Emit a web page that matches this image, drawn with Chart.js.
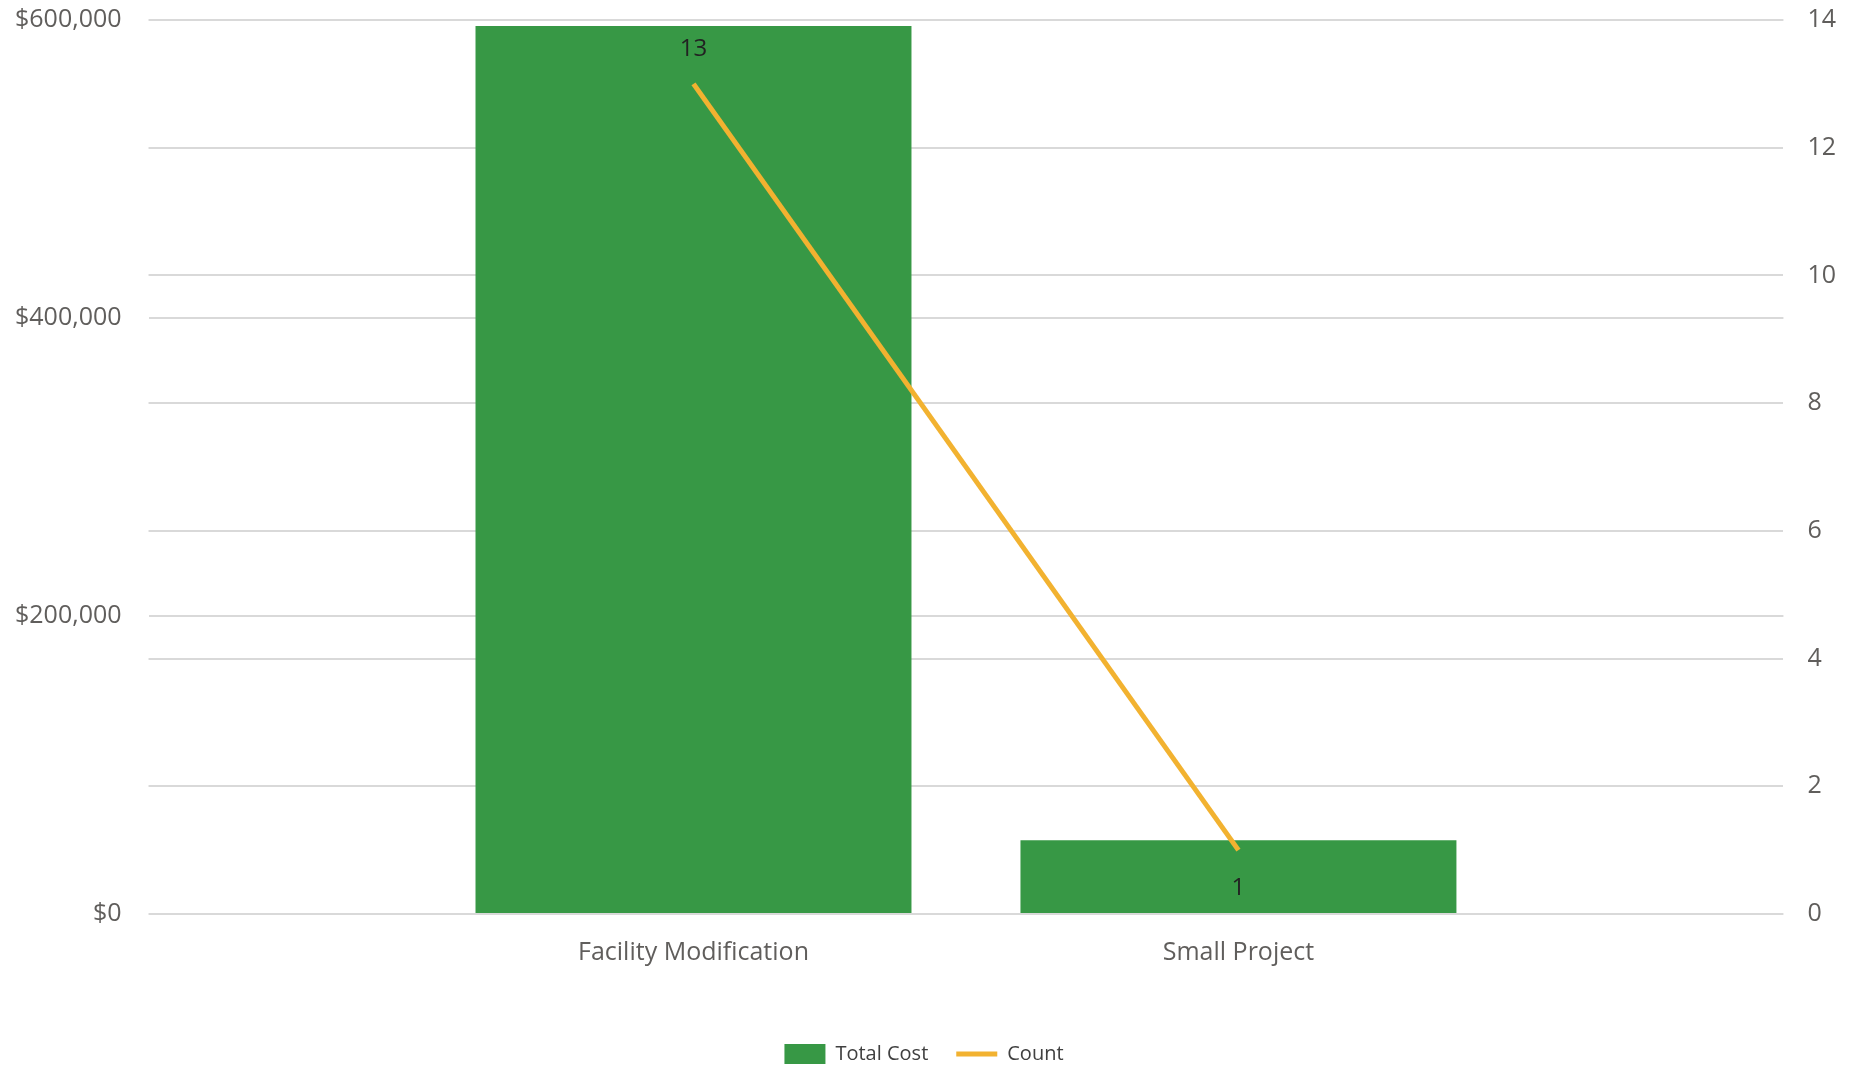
<!DOCTYPE html>
<html>
<head>
<meta charset="utf-8">
<script src="https://cdn.jsdelivr.net/npm/chart.js@4.4.1/dist/chart.umd.min.js"></script>
<style>
  html, body { margin: 0; padding: 0; background: #fff; }
  #wrap { width: 1864px; height: 1067px; }
</style>
</head>
<body>
<div id="wrap"><canvas id="chart"></canvas></div>
<script>
const categories = ["Facility Modification", "Small Project"];
const totalCost = [596000, 49500];
const counts = [13, 1];
const costTicks = [0, 200000, 400000, 600000];
const countTicks = [0, 2, 4, 6, 8, 10, 12, 14];

const green = '#379845';
const orange = '#F2B230';
const gridColor = '#D9D9D9';
const font = "'Open Sans', 'Noto Sans', sans-serif";

// draws the count labels next to the line points, away from the line
const countLabels = {
  id: 'countLabels',
  afterDatasetsDraw(chart) {
    const meta = chart.getDatasetMeta(1);
    const ctx = chart.ctx;
    ctx.save();
    ctx.font = '24px ' + font;
    ctx.fillStyle = '#222';
    ctx.textAlign = 'center';
    ctx.textBaseline = 'middle';
    meta.data.forEach((pt, i) => {
      const v = counts[i];
      const nb = [counts[i - 1], counts[i + 1]].filter(n => n !== undefined);
      const avg = nb.reduce((a, b) => a + b, 0) / nb.length;
      const dy = avg < v ? -35 : 38;
      ctx.fillText(String(v), pt.x, pt.y + dy);
    });
    ctx.restore();
  }
};

// tick padding would otherwise be added above/below the value axes
const trimPadding = axis => {
  axis.paddingTop = 15;
  axis.paddingBottom = 15;
};

new Chart(document.getElementById('chart'), {
  type: 'bar',
  data: {
    datasets: [
      {
        label: 'Total Cost',
        data: categories.map((c, i) => ({ x: i, y: totalCost[i] })),
        backgroundColor: green,
        yAxisID: 'y',
        order: 1,
        barPercentage: 1,
        categoryPercentage: 0.8,
        pointStyle: 'rect'
      },
      {
        type: 'line',
        label: 'Count',
        data: categories.map((c, i) => ({ x: i, y: counts[i] })),
        borderColor: orange,
        backgroundColor: orange,
        borderWidth: 5,
        pointRadius: 0,
        yAxisID: 'y1',
        order: 0,
        pointStyle: 'line'
      }
    ]
  },
  plugins: [countLabels],
  options: {
    responsive: true,
    maintainAspectRatio: false,
    animation: false,
    layout: { padding: { top: 20, left: -12, right: 4, bottom: -7 } },
    scales: {
      x: {
        type: 'linear',
        offset: false,
        min: -1,
        max: categories.length,
        afterFit: axis => { axis.height += 24; },
        grid: { display: false, drawTicks: false },
        border: { display: false },
        ticks: {
          stepSize: 1,
          padding: 24,
          color: '#605E5C',
          font: { family: font, size: 25 },
          callback: v => categories[v] || ''
        }
      },
      y: {
        position: 'left',
        min: 0,
        max: 600000,
        afterBuildTicks: axis => { axis.ticks = costTicks.map(v => ({ value: v })); },
        afterFit: trimPadding,
        grid: { color: gridColor, lineWidth: 2, drawTicks: false },
        border: { display: false },
        ticks: {
          padding: 27,
          color: '#605E5C',
          font: { family: font, size: 25 },
          callback: v => '$' + v.toLocaleString('en-US')
        }
      },
      y1: {
        position: 'right',
        min: 0,
        max: 14,
        afterBuildTicks: axis => { axis.ticks = countTicks.map(v => ({ value: v })); },
        afterFit: trimPadding,
        grid: { color: gridColor, lineWidth: 2, drawTicks: false },
        border: { display: false },
        ticks: {
          padding: 24,
          color: '#605E5C',
          font: { family: font, size: 25 }
        }
      }
    },
    plugins: {
      tooltip: { enabled: false },
      legend: {
        position: 'bottom',
        labels: {
          usePointStyle: true,
          pointStyleWidth: 41,
          boxHeight: 21,
          padding: 28,
          color: '#404040',
          font: { family: font, size: 20 },
          sort: (a, b) => a.datasetIndex - b.datasetIndex
        }
      }
    }
  }
});
</script>
</body>
</html>
